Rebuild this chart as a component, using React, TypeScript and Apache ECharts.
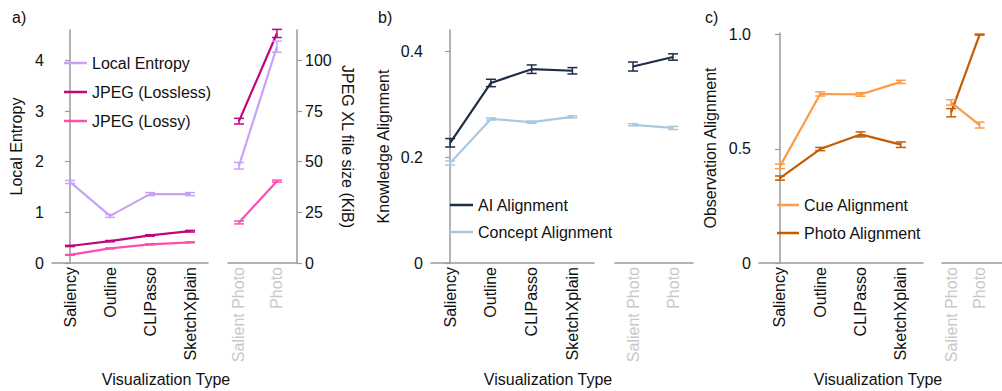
import React, { useEffect, useRef } from "react";
import * as echarts from "echarts";

const FONT = '"Liberation Sans", Arial, Helvetica, sans-serif';

// Categories
const leftCats = ["Saliency", "Outline", "CLIPasso", "SketchXplain"];
const rightCats = ["Salient Photo", "Photo"];

// Panel a) Local Entropy (left axis) and JPEG XL file size in KiB (right axis)
const entropyMain = [1.6, 0.93, 1.36, 1.36];
const entropyMainErr = [0.03, 0.03, 0.03, 0.03];
const entropyPhoto = [1.92, 4.27];
const entropyPhotoErr = [0.065, 0.11];
const losslessMain = [8.4, 10.8, 13.6, 15.7];
const losslessMainErr = [0.3, 0.3, 0.35, 0.4];
const losslessPhoto = [70.0, 113.3];
const losslessPhotoErr = [1.4, 2.0];
const lossyMain = [4.0, 7.2, 9.2, 10.2];
const lossyMainErr = [0.2, 0.2, 0.25, 0.25];
const lossyPhoto = [20.0, 40.4];
const lossyPhotoErr = [0.7, 0.5];

// Panel b) Knowledge Alignment
const aiMain = [0.227, 0.34, 0.366, 0.363];
const aiMainErr = [0.008, 0.007, 0.008, 0.006];
const aiPhoto = [0.371, 0.389];
const aiPhotoErr = [0.0085, 0.006];
const conceptMain = [0.189, 0.272, 0.266, 0.276];
const conceptMainErr = [0.004, 0.002, 0.002, 0.002];
const conceptPhoto = [0.261, 0.255];
const conceptPhotoErr = [0.002, 0.003];

// Panel c) Observation Alignment
const cueMain = [0.423, 0.74, 0.738, 0.793];
const cueMainErr = [0.01, 0.009, 0.008, 0.007];
const cuePhoto = [0.703, 0.604];
const cuePhotoErr = [0.012, 0.013];
const photoAlMain = [0.372, 0.499, 0.563, 0.518];
const photoAlMainErr = [0.009, 0.007, 0.011, 0.012];
const photoAlPhoto = [0.658, 1.0];
const photoAlPhotoErr = [0.018, 0.002];

// Tick values
const entropyTicks = [0, 1, 2, 3, 4];
const kibTicks = [0, 25, 50, 75, 100];
const knowledgeTicks = [0, 0.2, 0.4];
const observationTicks = [0, 0.5, 1.0];

const C_ENTROPY = "#c9a2f7";
const C_LOSSLESS = "#c2047f";
const C_LOSSY = "#ff4db2";
const C_AI = "#1f2c48";
const C_CONCEPT = "#a9c9e1";
const C_CUE = "#ff9a45";
const C_PHOTO = "#c45c03";
const AXIS = "#9a9a9a";

function lineSeries(name: string, color: string, vals: number[], xi: number, yi: number) {
  return {
    type: "line",
    name,
    data: vals.map((v, i) => [i, v]),
    xAxisIndex: xi,
    yAxisIndex: yi,
    symbol: "none",
    showSymbol: false,
    color,
    lineStyle: { color, width: 2.2 },
    itemStyle: { color },
    z: 2,
  };
}

function errSeries(name: string, color: string, vals: number[], errs: number[], xi: number, yi: number) {
  return {
    type: "custom",
    name: name + " error",
    data: vals.map((v, i) => [i, v, v - errs[i], v + errs[i]]),
    xAxisIndex: xi,
    yAxisIndex: yi,
    encode: { x: 0, y: [1, 2, 3] },
    silent: true,
    z: 3,
    renderItem: (params: any, api: any) => {
      const x = api.value(0);
      const lo = api.coord([x, api.value(2)]);
      const hi = api.coord([x, api.value(3)]);
      const w = 5;
      const style = { stroke: color, lineWidth: 1.5 };
      return {
        type: "group",
        children: [
          { type: "line", shape: { x1: lo[0], y1: lo[1], x2: hi[0], y2: hi[1] }, style },
          { type: "line", shape: { x1: lo[0] - w, y1: lo[1], x2: lo[0] + w, y2: lo[1] }, style },
          { type: "line", shape: { x1: hi[0] - w, y1: hi[1], x2: hi[0] + w, y2: hi[1] }, style },
        ],
      };
    },
  };
}

function xAxis(gridIndex: number, cats: string[], min: number, max: number, gray: boolean) {
  return {
    type: "value",
    gridIndex,
    min,
    max,
    axisLine: { show: true, onZero: false, lineStyle: { color: AXIS, width: 1.5 } },
    axisTick: { show: false },
    splitLine: { show: false },
    axisLabel: {
      customValues: cats.map((_, i) => i),
      formatter: (v: number) => cats[Math.round(v)] ?? "",
      rotate: 90,
      margin: 4,
      fontSize: 16,
      fontFamily: FONT,
      color: gray ? "#c8c8c8" : "#111",
    },
  };
}

function yAxisVisible(gridIndex: number, max: number, ticks: number[], name: string, nameGap: number, position: string, fmt?: (v: number) => string, nameRotate?: number) {
  return {
    type: "value",
    gridIndex,
    position,
    min: 0,
    max,
    name,
    nameLocation: "middle",
    nameGap,
    nameRotate,
    nameTextStyle: { fontSize: 16, fontFamily: FONT, color: "#111" },
    axisLine: { show: true, lineStyle: { color: AXIS, width: 1.5 } },
    axisTick: { show: true, length: 5, customValues: ticks, lineStyle: { color: AXIS, width: 1.2 } },
    splitLine: { show: false },
    axisLabel: {
      customValues: ticks,
      formatter: fmt ?? ((v: number) => String(v)),
      margin: 8,
      fontSize: 16,
      fontFamily: FONT,
      color: "#111",
    },
  };
}

function yAxisHidden(gridIndex: number, max: number) {
  return { type: "value", gridIndex, min: 0, max, show: false, splitLine: { show: false } };
}

function legend(names: string[], left: number, top: number, itemWidth: number, itemGap: number) {
  return {
    data: names,
    orient: "vertical",
    left,
    top,
    padding: 0,
    icon: "rect",
    itemWidth,
    itemHeight: 2.5,
    itemGap,
    selectedMode: false,
    textStyle: { fontSize: 16, fontFamily: FONT, color: "#111", lineHeight: 16 },
  };
}

function label(text: string, x: number, y: number, align: string) {
  return {
    type: "text",
    x,
    y,
    style: { text, fontSize: 16, fontFamily: FONT, fill: "#111", align, verticalAlign: "middle" },
  };
}

export default function App() {
  const ref = useRef<HTMLDivElement>(null);
  useEffect(() => {
    if (!ref.current) return;
    const chart = echarts.init(ref.current, undefined, { renderer: "svg" });
    const option = {
      animation: false,
      textStyle: { fontFamily: FONT },
      grid: [
        { left: 52, top: 30, width: 156, height: 233 },
        { left: 228, top: 30, width: 69, height: 233 },
        { left: 431, top: 30, width: 163, height: 233 },
        { left: 615, top: 30, width: 78, height: 233 },
        { left: 759, top: 33, width: 164, height: 230 },
        { left: 942, top: 33, width: 80, height: 230 },
      ],
      xAxis: [
        xAxis(0, leftCats, -0.45, 3.45, false),
        xAxis(1, rightCats, -0.29, 1.53, true),
        xAxis(2, leftCats, -0.47, 3.53, false),
        xAxis(3, rightCats, -0.45, 1.5, true),
        xAxis(4, leftCats, -0.52, 3.55, false),
        xAxis(5, rightCats, -0.32, 1.785, true),
      ],
      yAxis: [
        yAxisVisible(0, 4.6, entropyTicks, "Local Entropy", 28, "left"),
        yAxisHidden(0, 115),
        yAxisHidden(1, 4.6),
        yAxisVisible(1, 115, kibTicks, "JPEG XL file size (KiB)", 42, "right", undefined, -90),
        yAxisVisible(2, 0.44, knowledgeTicks, "Knowledge Alignment", 40, "left"),
        yAxisHidden(3, 0.44),
        yAxisVisible(4, 1.007, observationTicks, "Observation Alignment", 41, "left", (v: number) => (v === 1 ? "1.0" : String(v))),
        yAxisHidden(5, 1.007),
      ],
      legend: [
        legend(["Local Entropy", "JPEG (Lossless)", "JPEG (Lossy)"], 64, 55, 23, 13),
        legend(["AI Alignment", "Concept Alignment"], 450, 197, 23, 11),
        legend(["Cue Alignment", "Photo Alignment"], 777, 197, 22, 12),
      ],
      graphic: [
        label("a)", 12, 17, "left"),
        label("b)", 378, 17, "left"),
        label("c)", 705, 17, "left"),
        label("Visualization Type", 166, 379, "center"),
        label("Visualization Type", 548, 379, "center"),
        label("Visualization Type", 878, 379, "center"),
      ],
      series: [
        lineSeries("Local Entropy", C_ENTROPY, entropyMain, 0, 0),
        errSeries("Local Entropy", C_ENTROPY, entropyMain, entropyMainErr, 0, 0),
        lineSeries("JPEG (Lossless)", C_LOSSLESS, losslessMain, 0, 1),
        errSeries("JPEG (Lossless)", C_LOSSLESS, losslessMain, losslessMainErr, 0, 1),
        lineSeries("JPEG (Lossy)", C_LOSSY, lossyMain, 0, 1),
        errSeries("JPEG (Lossy)", C_LOSSY, lossyMain, lossyMainErr, 0, 1),
        lineSeries("Local Entropy", C_ENTROPY, entropyPhoto, 1, 2),
        errSeries("Local Entropy", C_ENTROPY, entropyPhoto, entropyPhotoErr, 1, 2),
        lineSeries("JPEG (Lossless)", C_LOSSLESS, losslessPhoto, 1, 3),
        errSeries("JPEG (Lossless)", C_LOSSLESS, losslessPhoto, losslessPhotoErr, 1, 3),
        lineSeries("JPEG (Lossy)", C_LOSSY, lossyPhoto, 1, 3),
        errSeries("JPEG (Lossy)", C_LOSSY, lossyPhoto, lossyPhotoErr, 1, 3),

        lineSeries("AI Alignment", C_AI, aiMain, 2, 4),
        errSeries("AI Alignment", C_AI, aiMain, aiMainErr, 2, 4),
        lineSeries("Concept Alignment", C_CONCEPT, conceptMain, 2, 4),
        errSeries("Concept Alignment", C_CONCEPT, conceptMain, conceptMainErr, 2, 4),
        lineSeries("AI Alignment", C_AI, aiPhoto, 3, 5),
        errSeries("AI Alignment", C_AI, aiPhoto, aiPhotoErr, 3, 5),
        lineSeries("Concept Alignment", C_CONCEPT, conceptPhoto, 3, 5),
        errSeries("Concept Alignment", C_CONCEPT, conceptPhoto, conceptPhotoErr, 3, 5),

        lineSeries("Cue Alignment", C_CUE, cueMain, 4, 6),
        errSeries("Cue Alignment", C_CUE, cueMain, cueMainErr, 4, 6),
        lineSeries("Photo Alignment", C_PHOTO, photoAlMain, 4, 6),
        errSeries("Photo Alignment", C_PHOTO, photoAlMain, photoAlMainErr, 4, 6),
        lineSeries("Cue Alignment", C_CUE, cuePhoto, 5, 7),
        errSeries("Cue Alignment", C_CUE, cuePhoto, cuePhotoErr, 5, 7),
        lineSeries("Photo Alignment", C_PHOTO, photoAlPhoto, 5, 7),
        errSeries("Photo Alignment", C_PHOTO, photoAlPhoto, photoAlPhotoErr, 5, 7),
      ],
    };
    chart.setOption(option as any);
    return () => chart.dispose();
  }, []);
  return (
    <div
      ref={ref}
      style={{ position: "fixed", left: 0, top: 0, width: 1002, height: 391, background: "#fff" }}
    />
  );
}
